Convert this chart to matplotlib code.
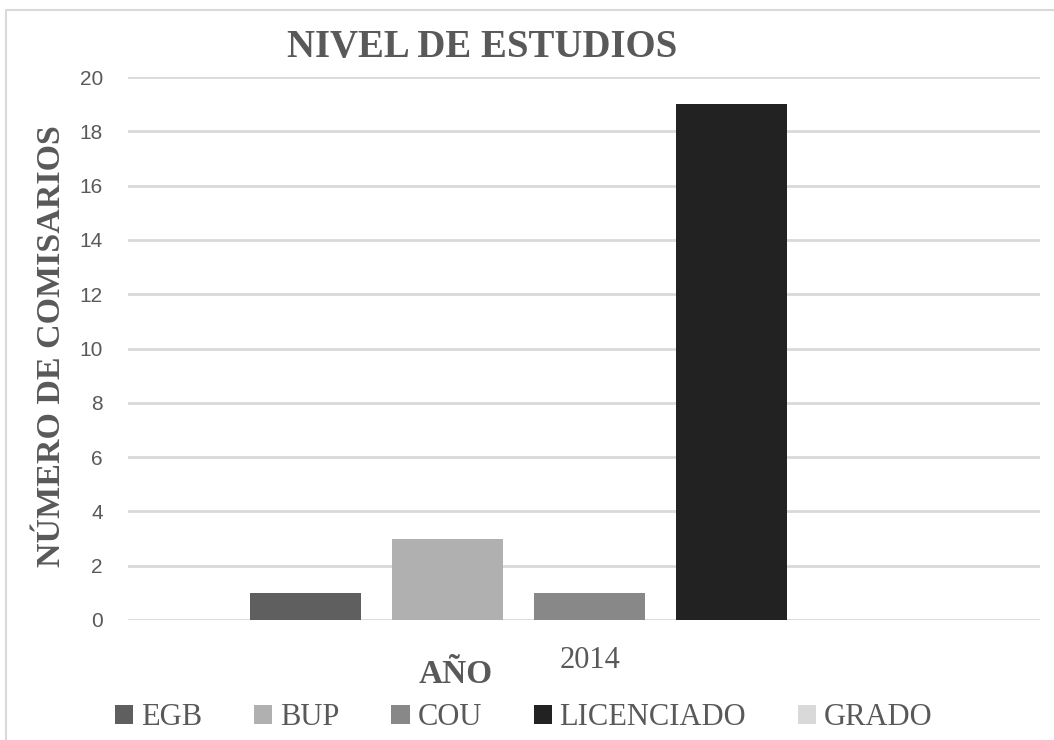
import matplotlib.pyplot as plt
from matplotlib.patches import Rectangle

# datos
categorias = ["EGB", "BUP", "COU", "LICENCIADO", "GRADO"]
valores = [1, 3, 1, 19, 0]
colores = ["#5f5f5f", "#b0b0b0", "#888888", "#222222", "#d9d9d9"]
anio = "2014"

fig = plt.figure(figsize=(10.54, 7.4), dpi=100)
ax = fig.add_axes([0.1214, 0.1622, 0.8653, 0.7337])

paso = 0.1557
ancho = 0.1217
for i, (cat, val, col) in enumerate(zip(categorias, valores, colores)):
    ax.bar((i - 2) * paso + 0.0066, val, width=ancho, color=col, label=cat, zorder=3)

ax.set_xlim(-0.5, 0.5)
ax.set_ylim(0, 20)
ax.set_yticks(range(0, 21, 2))
ax.yaxis.grid(True, color="#d9d9d9", linewidth=2, zorder=0)
ax.set_xticks([0.0066])
ax.set_xticklabels([anio], fontfamily="Liberation Serif", fontsize=22, color="#595959")
ax.tick_params(axis="x", length=0, pad=19)
ax.tick_params(axis="y", length=0, pad=18, labelsize=15, labelcolor="#595959")
for lbl in ax.get_yticklabels():
    lbl.set_fontfamily("Liberation Sans")
for s in ax.spines.values():
    s.set_visible(False)

fig.text(0.457, 0.936, "NIVEL DE ESTUDIOS", ha="center", va="center",
         fontfamily="Liberation Serif", fontweight="bold", fontsize=28, color="#595959")
fig.text(0.049, 0.533, "NÚMERO DE COMISARIOS", ha="center", va="center", rotation=90,
         fontfamily="Liberation Serif", fontweight="bold", fontsize=24.5, color="#595959")
fig.text(0.432, 0.088, "AÑO", ha="center", va="center",
         fontfamily="Liberation Serif", fontweight="bold", fontsize=24, color="#595959")

leg = ax.legend(loc="center", bbox_to_anchor=(0.497, 0.03), bbox_transform=fig.transFigure,
                ncol=5, frameon=False, handlelength=0.6, handleheight=0.6,
                handletextpad=0.25, columnspacing=1.7,
                prop={"family": "Liberation Serif", "size": 22})
for t in leg.get_texts():
    t.set_color("#595959")

fig.patches.append(Rectangle((0.006, -0.01), 1.1, 0.997, transform=fig.transFigure,
                             fill=False, edgecolor="#d9d9d9", linewidth=1.5))

fig.savefig("out.png", dpi=100)
